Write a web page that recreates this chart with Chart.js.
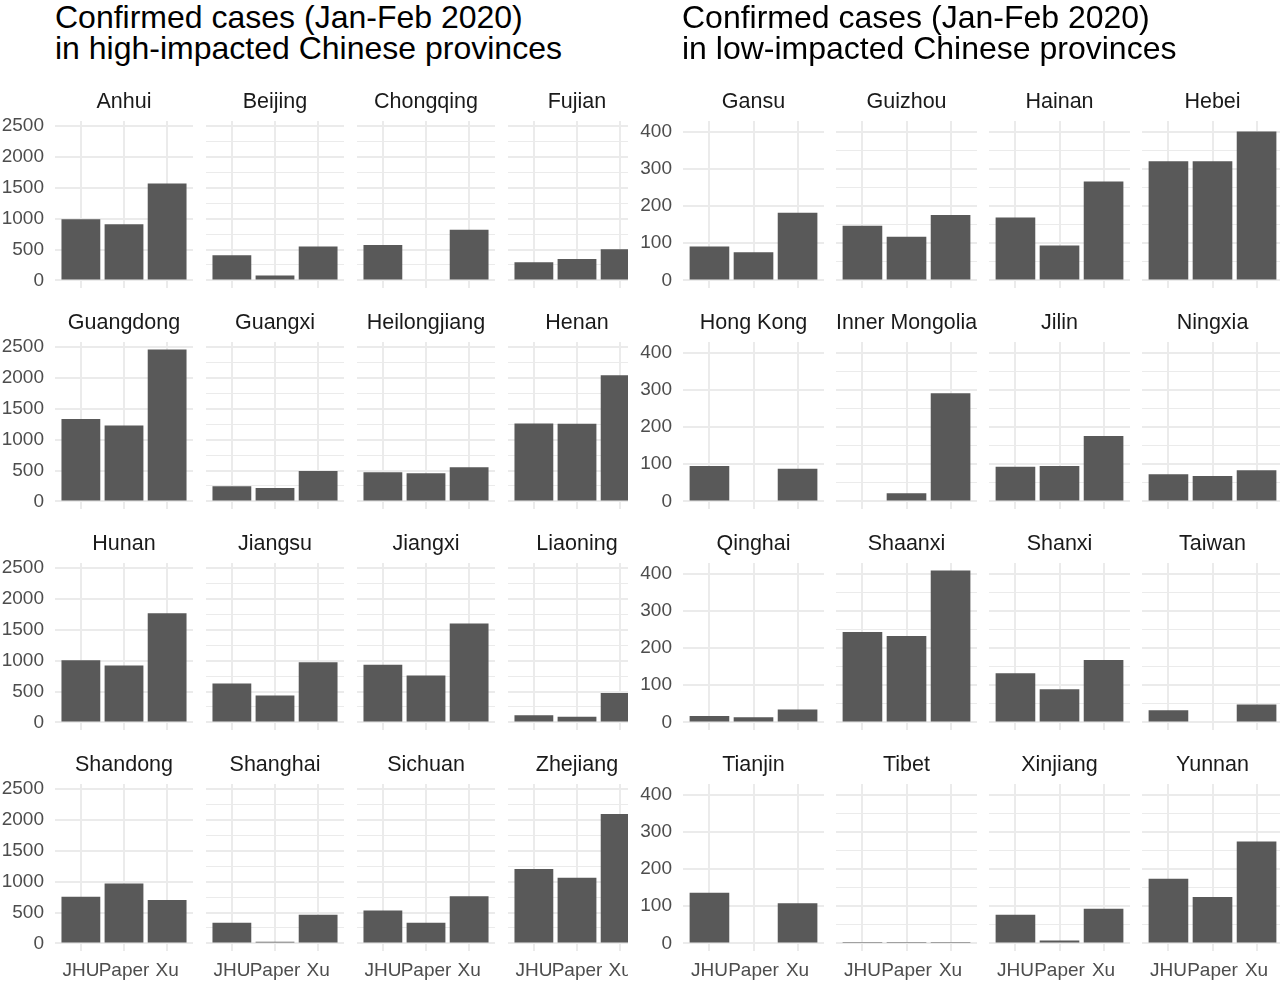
<!DOCTYPE html>
<html>
<head>
<meta charset="utf-8">
<script src="https://cdn.jsdelivr.net/npm/chart.js@4.4.1/dist/chart.umd.min.js"></script>
<style>
  html, body { margin: 0; padding: 0; background: #fff; }
  body { width: 1280px; height: 988px; position: relative; overflow: hidden; font-family: "Liberation Sans", Arial, sans-serif; }
  .half { position: absolute; top: 0; height: 988px; overflow: hidden; }
  .title { position: absolute; top: 2px; font-size: 32px; line-height: 31px; color: #000; white-space: nowrap; }
  canvas { position: absolute; }
</style>
</head>
<body>
<div class="half" id="leftHalf" style="left:0;width:628px">
  <div class="title" style="left:55px">Confirmed cases (Jan-Feb 2020)<br>in high-impacted Chinese provinces</div>
</div>
<div class="half" id="rightHalf" style="left:0;width:1280px">
  <div class="title" style="left:682px">Confirmed cases (Jan-Feb 2020)<br>in low-impacted Chinese provinces</div>
</div>
<script>
const sources = ['JHU', 'Paper', 'Xu'];

const highProvinces = ['Anhui', 'Beijing', 'Chongqing', 'Fujian', 'Guangdong', 'Guangxi', 'Heilongjiang', 'Henan',
  'Hunan', 'Jiangsu', 'Jiangxi', 'Liaoning', 'Shandong', 'Shanghai', 'Sichuan', 'Zhejiang'];
const highJHU = [990, 410, 576, 293, 1336, 244, 472, 1265, 1010, 631, 934, 117, 756, 337, 533, 1205];
const highPaper = [912, 81, null, 348, 1233, 217, 456, 1260, 923, 437, 759, 93, 972, 27, 333, 1065];
const highXu = [1570, 548, 820, 505, 2462, 494, 554, 2047, 1770, 977, 1606, 475, 705, 464, 765, 2097];
const highTicks = [0, 500, 1000, 1500, 2000, 2500];

const lowProvinces = ['Gansu', 'Guizhou', 'Hainan', 'Hebei', 'Hong Kong', 'Inner Mongolia', 'Jilin', 'Ningxia',
  'Qinghai', 'Shaanxi', 'Shanxi', 'Taiwan', 'Tianjin', 'Tibet', 'Xinjiang', 'Yunnan'];
const lowJHU = [91, 147, 169, 320, 95, null, 93, 73, 17, 243, 132, 33, 136, 1, 77, 174];
const lowPaper = [76, 117, 94, 320, null, 22, 95, 68, 14, 232, 89, null, null, 1, 8, 125];
const lowXu = [182, 176, 266, 400, 88, 291, 176, 84, 35, 408, 168, 48, 108, 4, 93, 274];
const lowTicks = [0, 100, 200, 300, 400];

const FONT = '"Liberation Sans", Arial, sans-serif';
const STRIP_H = 34;
const PANEL_H = 167;
const AXIS_H = 30;
const rowTops = [121, 342, 563, 784];

const groups = [
  { el: document.getElementById('leftHalf'), provinces: highProvinces, series: [highJHU, highPaper, highXu],
    ticks: highTicks, canvasLeft: 0, panelLefts: [55, 206, 357, 508], panelWidth: 138 },
  { el: document.getElementById('rightHalf'), provinces: lowProvinces, series: [lowJHU, lowPaper, lowXu],
    ticks: lowTicks, canvasLeft: 640, panelLefts: [683, 836, 989, 1142], panelWidth: 141 }
];

function drawPanel(group, i) {
  const row = Math.floor(i / 4);
  const col = i % 4;
  const yw = col === 0 ? group.panelLefts[0] - group.canvasLeft : 0;
  const w = group.panelWidth + yw;
  const h = STRIP_H + PANEL_H + AXIS_H;
  const canvas = document.createElement('canvas');
  canvas.width = w;
  canvas.height = h;
  Object.assign(canvas.style, {
    left: (group.panelLefts[col] - yw) + 'px',
    top: (rowTops[row] - STRIP_H) + 'px',
    width: w + 'px',
    height: h + 'px'
  });
  group.el.appendChild(canvas);

  // ggplot style limits: 5% expansion around the data range
  const all = group.series.flat().filter((v) => v !== null);
  const top = Math.max(...all);
  const major = group.ticks[1] - group.ticks[0];
  const gridValues = [];
  for (let v = 0; v <= top * 1.05; v += major / 2) gridValues.push(v);

  new Chart(canvas, {
    type: 'bar',
    data: {
      datasets: [{
        data: sources.map((s, k) => ({ x: k + 1, y: group.series[k][i] })),
        backgroundColor: '#595959',
        borderWidth: 0,
        barPercentage: 0.9,
        categoryPercentage: 1
      }]
    },
    options: {
      responsive: false,
      animation: false,
      devicePixelRatio: 1,
      layout: { padding: 0 },
      plugins: {
        legend: { display: false },
        tooltip: { enabled: false },
        title: {
          display: true,
          text: group.provinces[i],
          fullSize: false,
          color: '#1a1a1a',
          font: { family: FONT, size: 21.5, weight: 'normal', lineHeight: 1.2 },
          padding: { top: 2, bottom: 6.2 }
        }
      },
      scales: {
        x: {
          type: 'linear',
          min: 0.4,
          max: 3.6,
          offset: false,
          afterBuildTicks: (scale) => { scale.ticks = sources.map((s, k) => ({ value: k + 1 })); },
          afterFit: (scale) => { scale.height = AXIS_H; scale.paddingLeft = 0; scale.paddingRight = 0; },
          grid: { color: '#ebebeb', lineWidth: 2, drawTicks: false, offset: false },
          border: { display: false },
          ticks: {
            display: row === 3,
            padding: 8,
            maxRotation: 0,
            minRotation: 0,
            autoSkip: false,
            color: '#4d4d4d',
            font: { family: FONT, size: 19 },
            callback: (v) => sources[v - 1]
          }
        },
        y: {
          min: -0.05 * top,
          max: 1.05 * top,
          afterBuildTicks: (scale) => { scale.ticks = gridValues.map((v) => ({ value: v })); },
          afterFit: (scale) => { scale.width = yw; scale.paddingTop = 0; scale.paddingBottom = 0; },
          grid: {
            color: '#ebebeb',
            lineWidth: (ctx) => (ctx.tick && ctx.tick.value % major === 0 ? 2 : 1),
            drawTicks: false
          },
          border: { display: false },
          ticks: {
            display: col === 0,
            padding: 11,
            color: '#4d4d4d',
            font: { family: FONT, size: 19 },
            callback: (v) => (v % major === 0 ? String(v) : '')
          }
        }
      }
    }
  });
}

groups.forEach((group) => {
  group.provinces.forEach((p, i) => drawPanel(group, i));
});
</script>
</body>
</html>
